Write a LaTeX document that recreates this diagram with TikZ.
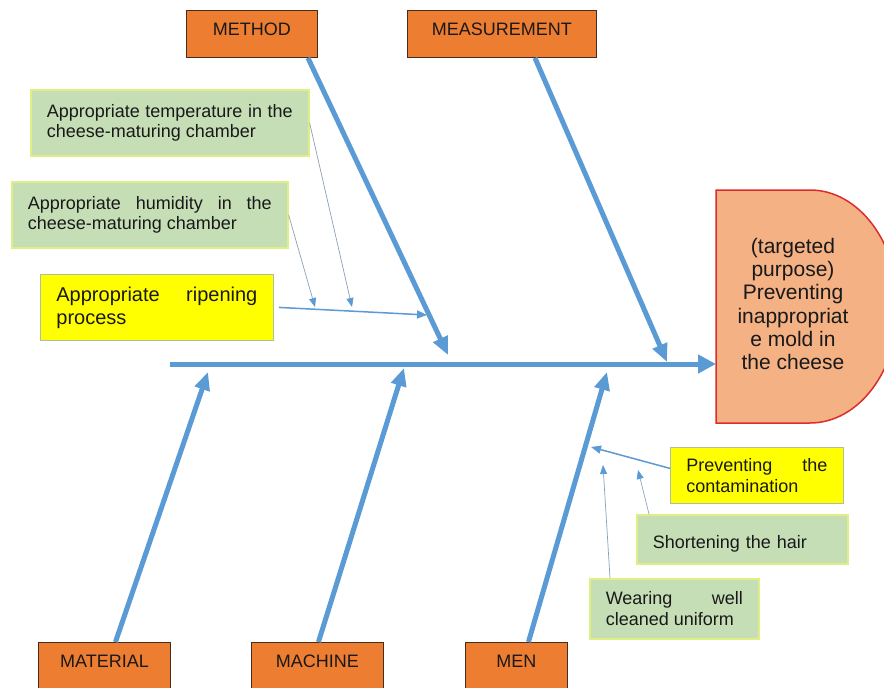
\documentclass[tikz,border=0pt]{standalone}
\usepackage{fontspec}
\setmainfont{Liberation Sans}
\usetikzlibrary{arrows.meta}
\definecolor{boneBlue}{RGB}{91,155,213}
\definecolor{twigGray}{RGB}{140,160,185}
\definecolor{catOrange}{RGB}{237,125,49}
\definecolor{catEdge}{RGB}{70,45,30}
\definecolor{goalFill}{RGB}{244,177,131}
\definecolor{goalEdge}{RGB}{220,45,45}
\definecolor{causeGreen}{RGB}{198,222,182}
\definecolor{causeGreenEdge}{RGB}{222,240,130}
\definecolor{causeYellow}{RGB}{255,255,0}
\definecolor{causeYellowEdge}{RGB}{175,190,160}
\definecolor{txtDark}{RGB}{25,25,25}

\begin{document}
\begin{tikzpicture}[x=1pt, y=-1pt,
    every node/.style={font=\fontsize{18}{20.5}\selectfont, text=txtDark},
    category/.style={draw=catEdge, line width=0.9pt, fill=catOrange, anchor=north west,
      inner xsep=0pt, inner ysep=0pt, text height=25pt, text depth=22pt},
    causebox/.style={draw=causeGreenEdge, line width=1.6pt, fill=causeGreen, anchor=north west,
      inner xsep=16pt, align=justify},
    keycause/.style={draw=causeYellowEdge, line width=0.8pt, fill=causeYellow, anchor=north west,
      inner xsep=16pt, align=justify},
    bone/.style={draw=boneBlue, line width=5pt, -{Triangle[length=18pt,width=15pt]}},
    sprig/.style={draw=boneBlue, line width=1.5pt, -{Triangle[length=10pt,width=8pt]}},
    twig/.style={draw=twigGray, line width=0.7pt, -{Triangle[length=9pt,width=7pt,color=boneBlue]}}]
  \clip (0,0) rectangle (884,688);
  \fill[white] (0,0) rectangle (884,688);

  % head of the fish
  \draw[goalEdge, line width=1.5pt, fill=goalFill] (716,190) -- (810,190)
    arc[start angle=90, end angle=-90, x radius=88pt, y radius=116.5pt] -- (716,423) -- cycle;
  \node[align=center, inner sep=0pt, font=\fontsize{21}{23.2}\selectfont] (goal) at (793,304)
    {(targeted\\purpose)\\Preventing\\inappropriat\\e mold in\\the cheese};

  % main categories
  \node[category, minimum width=131pt] (method) at (186,10) {METHOD};
  \node[category, minimum width=189pt] (measurement) at (407,10) {MEASUREMENT};
  \node[category, minimum width=132pt] (material) at (38,642) {MATERIAL};
  \node[category, minimum width=132pt] (machine) at (251,642) {MACHINE};
  \node[category, minimum width=102pt] (men) at (465,642) {MEN};

  % causes under method
  \node[causebox, text width=246pt, minimum height=66pt] (temperature) at (30,89)
    {Appropriate temperature in the cheese-maturing chamber};
  \node[causebox, text width=244pt, minimum height=66pt] (humidity) at (11,181)
    {Appropriate humidity in the cheese-maturing chamber};
  \node[keycause, text width=201pt, minimum height=66pt, font=\fontsize{20}{23}\selectfont] (ripening) at (40,274)
    {Appropriate ripening process};

  % causes under men
  \node[keycause, text width=141pt, minimum height=56pt] (contamination) at (670,447)
    {Preventing the contamination};
  \node[causebox, text width=179pt, align=left, inner ysep=0pt, text height=34pt, text depth=15pt] (hair) at (636,514)
    {Shortening the hair};
  \node[causebox, text width=137pt, minimum height=60pt] (uniform) at (589,578)
    {Wearing well cleaned uniform};

  % spine and bones
  \coordinate (spinestart) at (170,364);
  \coordinate (spineend) at (716,364);
  \coordinate (methodtip) at (448,355);
  \coordinate (measuretip) at (667,362);
  \coordinate (materialtip) at (208,372);
  \coordinate (machinetip) at (404,368);
  \coordinate (mentip) at (607,372);
  \draw[bone, -{Triangle[length=18pt,width=18pt]}] (spinestart) -- (spineend);
  \draw[bone] ([xshift=56pt]method.south) -- (methodtip);
  \draw[bone] ([xshift=33pt]measurement.south) -- (measuretip);
  \draw[bone] ([xshift=11pt]material.north) -- (materialtip);
  \draw[bone] ([xshift=1pt]machine.north) -- (machinetip);
  \draw[bone] ([xshift=12pt]men.north) -- (mentip);

  % small arrows
  \coordinate (temptip) at (352,307);
  \coordinate (humidtip) at (315,307);
  \coordinate (ripentip) at (427,315);
  \coordinate (contamtip) at (591,447);
  \coordinate (hairtip) at (638,470);
  \coordinate (uniformtip) at (603,465);
  \draw[twig] (temperature.east) -- (temptip);
  \draw[twig] (humidity.east) -- (humidtip);
  \draw[sprig] ([xshift=5pt]ripening.east) -- (ripentip);
  \draw[sprig] ([yshift=7pt]contamination.west) -- (contamtip);
  \draw[twig] ([xshift=13pt]hair.north west) -- (hairtip);
  \draw[twig] ([xshift=21pt]uniform.north west) -- (uniformtip);
\end{tikzpicture}
\end{document}
